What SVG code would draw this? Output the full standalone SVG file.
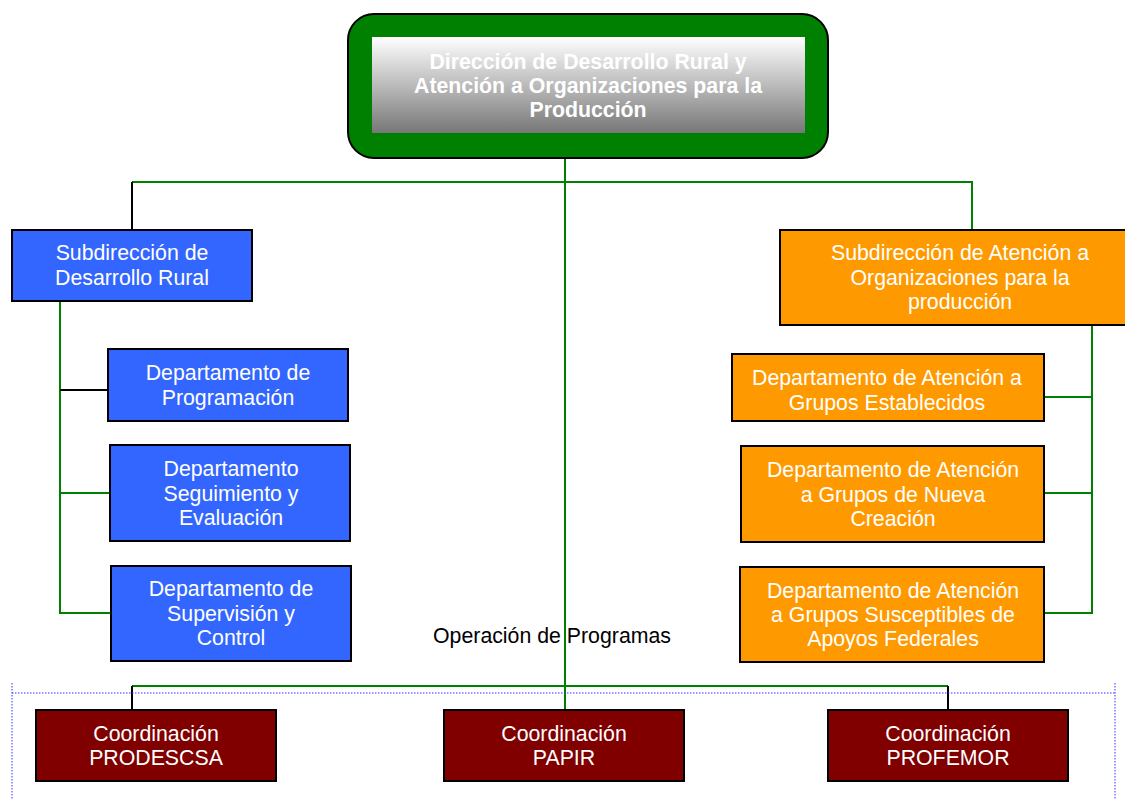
<svg xmlns="http://www.w3.org/2000/svg" width="1125" height="800" viewBox="0 0 1125 800">
<defs>
<linearGradient id="gr" x1="0" y1="0" x2="0" y2="1">
<stop offset="0" stop-color="#ffffff"/>
<stop offset="1" stop-color="#777777"/>
</linearGradient>
</defs>
<style>
text{font-family:"Liberation Sans",Arial,sans-serif;font-size:21.3px;text-anchor:middle}
.w{fill:#fff}
.box{stroke:#000;stroke-width:2}
.blue{fill:#3366ff}
.orange{fill:#ff9900}
.red{fill:#800000}
.g{stroke:#008000;stroke-width:2;fill:none}
.k{stroke:#000;stroke-width:2;fill:none}
</style>
<rect width="1125" height="800" fill="#fff"/>
<g id="connectors">
<path class="g" d="M565 158V710M132 182H972V230M60 301V613H110M60 493H110M1044 397H1092M1044 493H1092M1092 325V613H1044M132 686H948"/>
<path class="k" d="M132 182V230M60 390H108M132 686V710M948 686V710"/>
<path d="M12 693H1115M12 683V800M1115 683V800" stroke="#3333ff" stroke-width="1" stroke-dasharray="1.5,1.5" fill="none"/>
</g>
<g id="top">
<rect x="348" y="14" width="480" height="144" rx="26" fill="#008000" stroke="#000" stroke-width="2"/>
<rect x="372" y="37" width="433" height="96" fill="url(#gr)"/>
<text class="w" font-weight="bold" x="588" y="69">Dirección de Desarrollo Rural y</text>
<text class="w" font-weight="bold" x="588" y="93">Atención a Organizaciones para la</text>
<text class="w" font-weight="bold" x="588" y="117">Producción</text>
</g>
<g id="subRural">
<rect class="box blue" x="12" y="230" width="240" height="71"/>
<text class="w" x="132" y="260">Subdirección de</text>
<text class="w" x="132" y="285">Desarrollo Rural</text>
</g>
<g id="depProg">
<rect class="box blue" x="108" y="349" width="240" height="72"/>
<text class="w" x="228" y="380">Departamento de</text>
<text class="w" x="228" y="405">Programación</text>
</g>
<g id="depSeg">
<rect class="box blue" x="110" y="445" width="240" height="96"/>
<text class="w" x="231" y="476">Departamento</text>
<text class="w" x="231" y="501">Seguimiento y</text>
<text class="w" x="231" y="525">Evaluación</text>
</g>
<g id="depSup">
<rect class="box blue" x="111" y="566" width="240" height="95"/>
<text class="w" x="231" y="596">Departamento de</text>
<text class="w" x="231" y="621">Supervisión y</text>
<text class="w" x="231" y="645">Control</text>
</g>
<g id="subAten">
<rect class="box orange" x="780" y="230" width="350" height="95"/>
<text class="w" x="960" y="260">Subdirección de Atención a</text>
<text class="w" x="960" y="285">Organizaciones para la</text>
<text class="w" x="960" y="309">producción</text>
</g>
<g id="depEst">
<rect class="box orange" x="732" y="354" width="312" height="67"/>
<text class="w" x="887" y="385">Departamento de Atención a</text>
<text class="w" x="887" y="410">Grupos Establecidos</text>
</g>
<g id="depNueva">
<rect class="box orange" x="741" y="446" width="303" height="96"/>
<text class="w" x="893" y="477">Departamento de Atención</text>
<text class="w" x="893" y="502">a Grupos de Nueva</text>
<text class="w" x="893" y="526">Creación</text>
</g>
<g id="depSusc">
<rect class="box orange" x="740" y="567" width="304" height="95"/>
<text class="w" x="893" y="598">Departamento de Atención</text>
<text class="w" x="893" y="622">a Grupos Susceptibles de</text>
<text class="w" x="893" y="646">Apoyos Federales</text>
</g>
<text x="552" y="643" fill="#000">Operación de Programas</text>
<g id="coordProdescsa">
<rect class="box red" x="36" y="710" width="240" height="71"/>
<text class="w" x="156" y="741">Coordinación</text>
<text class="w" x="156" y="765">PRODESCSA</text>
</g>
<g id="coordPapir">
<rect class="box red" x="444" y="710" width="240" height="71"/>
<text class="w" x="564" y="741">Coordinación</text>
<text class="w" x="564" y="765">PAPIR</text>
</g>
<g id="coordProfemor">
<rect class="box red" x="828" y="710" width="240" height="71"/>
<text class="w" x="948" y="741">Coordinación</text>
<text class="w" x="948" y="765">PROFEMOR</text>
</g>
</svg>
